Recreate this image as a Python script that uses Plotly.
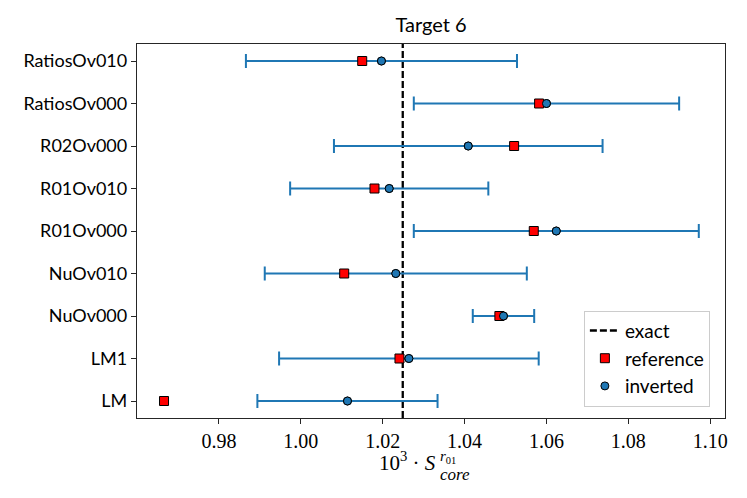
import plotly.graph_objects as go

labels = ['LM', 'LM1', 'NuOv000', 'NuOv010', 'R01Ov000', 'R01Ov010',
          'R02Ov000', 'RatiosOv000', 'RatiosOv010']
reference = [0.9666, 1.0241, 1.0485, 1.0106, 1.0569, 1.0180, 1.0521, 1.0582, 1.0150]
inverted = [1.0114, 1.0264, 1.0495, 1.0232, 1.0624, 1.0216, 1.0409, 1.0600, 1.0197]
inv_err = [0.0220, 0.0317, 0.0075, 0.0320, 0.0348, 0.0242, 0.0328, 0.0324, 0.0331]
exact = 1.0249
xticks = [0.98, 1.00, 1.02, 1.04, 1.06, 1.08, 1.10]

ypos = list(range(len(labels)))
yrange = [-0.4, len(labels) - 0.6]
blue = '#1f77b4'
sans = 'Lato, sans-serif'
serif = 'Liberation Serif, serif'

fig = go.Figure()

fig.add_trace(go.Scatter(
    x=[exact, exact], y=yrange, mode='lines', name='exact',
    line=dict(color='black', width=2.3, dash='7px,3px'), legendrank=1))

# error bars first so they sit under the squares
fig.add_trace(go.Scatter(
    x=inverted, y=ypos, mode='markers', name='inverted',
    marker=dict(symbol='circle', size=8, color=blue, line=dict(color='black', width=1)),
    error_x=dict(type='data', array=inv_err, color=blue, thickness=2, width=7),
    legendrank=3))

fig.add_trace(go.Scatter(
    x=reference, y=ypos, mode='markers', name='reference',
    marker=dict(symbol='square', size=9, color='red', line=dict(color='black', width=1)),
    legendrank=2))

fig.add_trace(go.Scatter(
    x=inverted, y=ypos, mode='markers', showlegend=False,
    marker=dict(symbol='circle', size=8, color=blue, line=dict(color='black', width=1))))

fig.update_layout(
    width=747, height=498,
    margin=dict(l=137, r=22, t=44, b=80, autoexpand=False),
    paper_bgcolor='white', plot_bgcolor='white',
    title=dict(text='Target 6', x=0.577, xanchor='center', y=0.95, yanchor='middle',
               font=dict(family=sans, size=20, color='black')),
    legend=dict(x=0.76, y=0.287, xanchor='left', yanchor='top',
                bgcolor='white', bordercolor='#cccccc', borderwidth=1,
                font=dict(family=sans, size=19, color='black')),
)

fig.update_xaxes(
    range=[0.9600, 1.1036], tickvals=xticks, ticktext=['%.2f' % t for t in xticks],
    showgrid=False, zeroline=False, showline=True, linecolor='#262626', linewidth=1.3,
    mirror=True, ticks='outside', ticklen=5, tickwidth=1.3, tickcolor='#262626',
    automargin=False, tickfont=dict(family=serif, size=20, color='black'))

fig.update_yaxes(
    range=yrange, tickvals=ypos, ticktext=labels,
    showgrid=False, zeroline=False, showline=True, linecolor='#262626', linewidth=1.3,
    mirror=True, ticks='outside', ticklen=5, tickwidth=1.3, tickcolor='#262626',
    automargin=False, tickfont=dict(family=sans, size=18, color='black'))

# x-axis label built from pieces to stack the super- and subscript
fig.add_annotation(text='10<sup>3</sup> · <i>S</i>', xref='paper', yref='paper',
                   x=0.512, y=-0.115, xanchor='right', yanchor='middle', showarrow=False,
                   font=dict(family=serif, size=21, color='black'))
fig.add_annotation(text='<i>r</i><sub>01</sub>', xref='paper', yref='paper',
                   x=0.512, y=-0.103, xanchor='left', yanchor='middle', showarrow=False,
                   font=dict(family=serif, size=15, color='black'))
fig.add_annotation(text='<i>core</i>', xref='paper', yref='paper',
                   x=0.512, y=-0.152, xanchor='left', yanchor='middle', showarrow=False,
                   font=dict(family=serif, size=17, color='black'))

# drop the browser's default page margin so the figure sits at the top-left corner
fig.write_html('out.html', config={'displayModeBar': False},
               post_script="document.body.style.margin='0';")
